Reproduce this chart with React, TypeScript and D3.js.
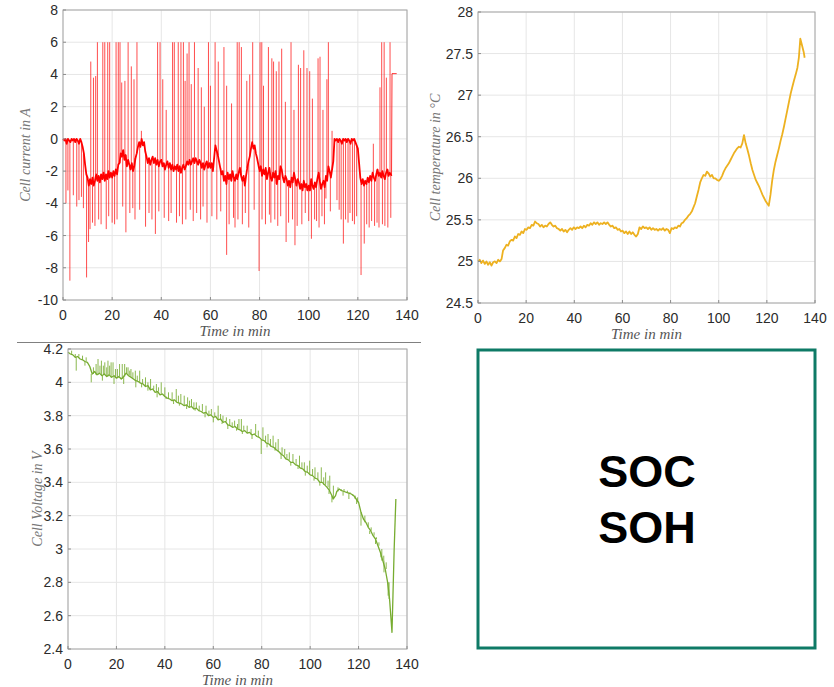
import React from 'react';
import * as d3 from 'd3';

type Pt = [number, number];

// axis ticks
const timeTicks = [0, 20, 40, 60, 80, 100, 120, 140];
const currentTicks = [-10, -8, -6, -4, -2, 0, 2, 4, 6, 8];
const tempTicks = [24.5, 25, 25.5, 26, 26.5, 27, 27.5, 28];
const voltTicks = [2.4, 2.6, 2.8, 3, 3.2, 3.4, 3.6, 3.8, 4, 4.2];

// cell current: the noisy baseline band, then the up / down pulses
const currentBase: Pt[] = [
  [0, 0], [0.5, -0.1], [1, 0], [1.5, -0.3], [2, 0], [2.5, -0.1], [3, -0.2], [3.5, 0], [4, -0.1], [4.5, 0],
  [5, -0.2], [5.5, 0], [6, -0.1], [6.5, -0.3], [7, 0], [7.5, -0.2], [8, -0.5], [8.5, -0.9], [9, -1.6], [9.5, -2.2],
  [10, -2.4], [10.5, -2.9], [11, -2.5], [11.5, -2.8], [12, -2.4], [12.5, -2.9], [13, -2.6], [13.5, -2.2], [14, -2.6], [14.5, -2.3],
  [15, -2.7], [15.5, -2.2], [16, -2.5], [16.5, -2.1], [17, -2.6], [17.5, -2.2], [18, -2.5], [18.5, -2.0], [19, -2.4], [19.5, -2.1],
  [20, -2.4], [20.5, -2.0], [21, -2.3], [21.5, -1.9], [22, -2.2], [22.5, -1.6], [23, -1.5], [23.5, -0.9], [24, -1.1], [24.5, -0.7],
  [25, -1.3], [25.5, -1.0], [26, -1.7], [26.5, -1.3], [27, -1.6], [27.5, -1.9], [28, -1.5], [28.5, -2.0], [29, -1.7], [29.5, -1.2],
  [30, -0.9], [30.5, -0.5], [31, -0.2], [31.5, -0.5], [32, 0], [32.5, -0.4], [33, -0.2], [33.5, -0.8], [34, -1.1], [34.5, -1.5],
  [35, -1.2], [35.5, -1.6], [36, -1.3], [36.5, -1.1], [37, -1.5], [37.5, -1.2], [38, -1.6], [38.5, -1.3], [39, -1.7], [39.5, -1.4],
  [40, -1.3], [40.5, -1.7], [41, -1.5], [41.5, -1.9], [42, -1.6], [42.5, -1.4], [43, -1.8], [43.5, -1.5], [44, -1.9], [44.5, -1.6],
  [45, -2.0], [45.5, -1.7], [46, -1.9], [46.5, -1.6], [47, -2.0], [47.5, -1.7], [48, -2.1], [48.5, -1.8], [49, -1.6], [49.5, -1.9],
  [50, -1.7], [50.5, -1.4], [51, -1.6], [51.5, -1.3], [52, -1.6], [52.5, -1.4], [53, -1.2], [53.5, -1.5], [54, -1.2], [54.5, -1.4],
  [55, -1.6], [55.5, -1.3], [56, -1.5], [56.5, -1.8], [57, -1.5], [57.5, -1.9], [58, -1.6], [58.5, -1.4], [59, -1.8], [59.5, -1.5],
  [60, -1.8], [60.5, -1.5], [61, -2.0], [61.5, -1.2], [62, -0.4], [62.5, -0.7], [63, -1.0], [63.5, -1.4], [64, -1.8], [64.5, -2.2],
  [65, -2.0], [65.5, -2.6], [66, -2.3], [66.5, -2.8], [67, -2.1], [67.5, -2.5], [68, -2.2], [68.5, -2.6], [69, -2.0], [69.5, -2.4],
  [70, -2.6], [70.5, -2.2], [71, -2.5], [71.5, -2.1], [72, -1.8], [72.5, -2.3], [73, -2.6], [73.5, -2.3], [74, -2.9], [74.5, -2.3],
  [75, -1.8], [75.5, -1.4], [76, -1.1], [76.5, -0.6], [77, -0.2], [77.5, -0.6], [78, -0.4], [78.5, -0.9], [79, -1.2], [79.5, -1.6],
  [80, -2.0], [80.5, -1.7], [81, -2.3], [81.5, -1.9], [82, -2.2], [82.5, -1.8], [83, -2.5], [83.5, -2.1], [84, -1.8], [84.5, -2.4],
  [85, -2.6], [85.5, -2.1], [86, -2.4], [86.5, -2.0], [87, -2.8], [87.5, -2.3], [88, -2.5], [88.5, -1.7], [89, -1.9], [89.5, -2.4],
  [90, -2.7], [90.5, -2.3], [91, -2.5], [91.5, -2.9], [92, -2.6], [92.5, -3.0], [93, -2.4], [93.5, -2.7], [94, -2.1], [94.5, -2.5],
  [95, -2.9], [95.5, -2.5], [96, -2.7], [96.5, -3.1], [97, -2.8], [97.5, -3.2], [98, -2.6], [98.5, -3.0], [99, -2.8], [99.5, -3.2],
  [100, -2.9], [100.5, -3.2], [101, -2.5], [101.5, -2.9], [102, -3.1], [102.5, -2.7], [103, -3.0], [103.5, -2.5], [104, -2.1], [104.5, -2.6],
  [105, -3.1], [105.5, -2.8], [106, -2.6], [106.5, -3.0], [107, -2.3], [107.5, -2.6], [108, -1.7], [108.5, -2.0], [109, -2.4], [109.5, -1.9],
  [110, -1.4], [110.5, 0], [111, -0.1], [111.5, 0], [112, -0.2], [112.5, 0], [113, -0.1], [113.5, -0.3], [114, 0], [114.5, -0.1],
  [115, 0], [115.5, -0.2], [116, 0], [116.5, -0.1], [117, -0.3], [117.5, 0], [118, -0.1], [118.5, 0], [119, -0.2], [119.5, -0.4],
  [120, -0.6], [120.5, -1.5], [121, -2.4], [121.5, -2.8], [122, -2.5], [122.5, -2.9], [123, -2.6], [123.5, -2.8], [124, -2.4], [124.5, -2.7],
  [125, -2.3], [125.5, -2.6], [126, -2.1], [126.5, -2.4], [127, -2.6], [127.5, -2.2], [128, -1.9], [128.5, -2.3], [129, -2.1], [129.5, -2.4],
  [130, -2.0], [130.5, -2.3], [131, -2.5], [131.5, -2.1], [132, -1.9], [132.5, -2.3], [133, -2.1], [133.7, -2.3],
];
// last step of the record, drawn thin
const currentTail: Pt[] = [[133.7, -2.3], [133.9, 4.05], [135.8, 4.05]];

const currentUp: Pt[] = [
  [11.3, 4.8], [12.4, 3.8], [13.3, 3.9], [14.0, 6], [16.2, 6], [17.0, 6], [18.2, 6], [19.0, 6], [21.6, 6], [22.5, 6],
  [23.2, 6], [23.9, 3.5], [25.2, 3.6], [26.5, 6], [27.8, 4.5], [28.9, 3.7], [30.1, 6], [31.9, 0.5],
  [38.5, 6], [39.5, 6], [40.6, 3.7], [42.0, 1.8], [44.6, 6], [45.3, 6], [46.9, 6], [48.0, 6], [49.0, 6], [49.7, 3.6],
  [50.5, 5.3], [51.3, 6], [52.2, 3.4], [53.5, 6], [55.0, 4.4], [56.3, 3.2], [57.5, 2.0], [59.2, 6], [60.0, 3.3], [61.9, 6],
  [63.2, 4.8], [65.5, 5.7], [66.6, 3.3], [68.6, 2.2], [70.9, 6], [71.7, 6], [72.6, 5.7], [74.8, 3.6], [76.0, 4.0], [77.2, 6],
  [80.2, 6], [80.9, 6], [81.6, 3.3], [83.6, 5.7], [85.0, 5.0], [85.7, 4.8], [86.8, 4.2], [87.9, 4.8], [89.0, 5.6], [90.5, 2.3],
  [92.8, 6], [94.0, 1.8], [95.8, 4.6], [96.7, 4.4], [98.0, 5.5], [99.3, 4.4], [100.4, 4.2], [101.5, 2.5], [103.8, 5.0], [104.6, 5.1],
  [105.8, 1.8], [107.4, 3.7], [108.0, 6], [109.5, 0.5], [126.3, -0.3], [129.0, 3.2], [129.7, 6], [130.7, 6], [131.6, 3.8], [133.1, 6],
];

const currentDown: Pt[] = [
  [1.2, -4], [2.0, -3.2], [2.8, -8.8], [4.2, -3.5], [5.6, -4.2], [6.5, -3.8], [7.5, -3.6], [8.3, -4.3], [9.6, -8.6], [10.4, -6.4],
  [11.0, -5.6], [12.0, -5.2], [13.0, -5.4], [14.5, -5.0], [15.5, -5.3], [17.6, -5.6], [18.6, -4.8], [20.0, -5.2], [21.0, -5.3], [22.0, -5.0],
  [24.3, -4.2], [25.6, -5.8], [27.2, -4.6], [28.4, -4.3], [29.3, -5.0], [31.2, -4.4], [33.6, -5.45], [35.0, -4.6], [36.2, -5.0], [37.6, -5.9],
  [39.0, -4.5], [41.2, -4.9], [43.0, -5.1], [44.0, -4.6], [46.2, -5.2], [47.4, -4.8], [48.6, -5.3], [50.0, -5.0], [51.8, -4.4], [53.0, -5.1],
  [54.4, -4.6], [56.0, -5.0], [57.0, -4.2], [58.6, -5.2], [60.6, -4.8], [62.6, -5.0], [64.2, -4.5], [66.6, -7.2], [67.6, -5.3], [69.4, -4.9],
  [70.0, -5.5], [71.2, -5.0], [73.0, -5.3], [74.2, -4.6], [75.6, -5.5], [77.8, -4.4], [79.8, -8.2], [81.0, -5.0], [82.4, -5.3], [84.0, -4.7],
  [84.6, -5.2], [86.2, -5.0], [87.4, -5.4], [88.6, -4.8], [90.8, -6.4], [91.8, -5.2], [93.4, -5.0], [94.4, -6.6], [95.3, -5.4], [97.2, -5.3],
  [98.6, -4.6], [100.0, -5.1], [101.1, -6.2], [102.4, -5.0], [103.2, -5.1], [104.2, -5.5], [105.4, -4.8], [106.4, -5.3], [107.0, -3.7], [108.8, -4.5],
  [111.5, -3.8], [112.4, -4.4], [113.2, -5.0], [114.1, -6.5], [115.0, -5.0], [116.0, -5.2], [116.8, -4.6], [117.8, -5.1], [118.6, -5.3], [119.5, -4.8],
  [121.3, -8.45], [122.6, -6.5], [123.6, -5.3], [124.6, -5.5], [125.6, -5.1], [126.8, -5.4], [127.8, -5.2], [128.6, -5.5], [130.0, -5.3], [131.0, -5.4],
  [132.2, -5.5], [133.4, -4.9],
];

// cell temperature
const tempSeries: Pt[] = [
  [0, 25.0], [0.7, 25.02], [1.4, 24.98], [2.1, 25.01], [2.8, 24.97], [3.5, 25.0], [4.2, 24.96], [4.9, 24.99], [5.6, 24.95], [6.3, 24.99],
  [7, 25.0], [7.7, 24.98], [8.4, 25.02], [9.1, 25.0], [9.8, 25.03], [10.4, 25.13], [11.1, 25.16], [11.8, 25.2], [12.5, 25.19], [13.2, 25.24],
  [13.9, 25.26], [14.6, 25.25], [15.3, 25.3], [16, 25.28], [16.7, 25.33], [17.4, 25.32], [18.1, 25.36], [18.8, 25.34], [19.5, 25.39], [20.2, 25.38],
  [20.9, 25.41], [21.6, 25.4], [22.3, 25.44], [23, 25.43], [23.7, 25.48], [24.4, 25.46], [25.1, 25.45], [25.8, 25.42], [26.5, 25.44], [27.2, 25.41],
  [27.9, 25.43], [28.6, 25.42], [29.3, 25.45], [30, 25.47], [30.7, 25.44], [31.4, 25.42], [32.1, 25.43], [32.8, 25.4], [33.5, 25.39], [34.2, 25.37],
  [34.9, 25.39], [35.6, 25.36], [36.3, 25.38], [37, 25.35], [37.7, 25.38], [38.4, 25.4], [39.1, 25.38], [39.8, 25.41], [40.5, 25.39], [41.2, 25.41],
  [41.9, 25.4], [42.6, 25.42], [43.3, 25.4], [44, 25.43], [44.7, 25.41], [45.4, 25.44], [46.1, 25.43], [46.8, 25.46], [47.5, 25.44], [48.2, 25.47],
  [48.9, 25.45], [49.6, 25.47], [50.3, 25.44], [51, 25.46], [51.7, 25.45], [52.4, 25.47], [53.1, 25.45], [53.8, 25.47], [54.5, 25.44], [55.2, 25.42],
  [55.9, 25.43], [56.6, 25.4], [57.3, 25.41], [58, 25.38], [58.7, 25.39], [59.4, 25.36], [60.1, 25.37], [60.8, 25.34], [61.5, 25.36], [62.2, 25.33],
  [62.9, 25.36], [63.6, 25.33], [64.3, 25.35], [65, 25.32], [65.7, 25.3], [66.4, 25.33], [67.1, 25.41], [67.8, 25.39], [68.5, 25.42], [69.2, 25.4],
  [69.9, 25.41], [70.6, 25.39], [71.3, 25.41], [72, 25.38], [72.7, 25.4], [73.4, 25.38], [74.1, 25.39], [74.8, 25.37], [75.5, 25.39], [76.2, 25.38],
  [76.9, 25.4], [77.6, 25.37], [78.3, 25.39], [79, 25.38], [79.7, 25.34], [80.4, 25.4], [81.1, 25.39], [81.8, 25.41], [82.5, 25.4], [83.2, 25.43],
  [83.9, 25.42], [84.6, 25.46], [85.3, 25.47], [86, 25.5], [86.7, 25.52], [87.4, 25.55], [88.1, 25.57], [88.8, 25.6], [89.5, 25.65], [90.2, 25.7],
  [90.9, 25.78], [91.6, 25.86], [92.3, 25.95], [93, 26.0], [93.7, 26.04], [94.4, 26.03], [95.1, 26.08], [95.8, 26.06], [96.5, 26.02], [97.2, 26.04],
  [97.9, 26.0], [98.6, 26.0], [99.3, 25.98], [100, 25.97], [100.7, 25.99], [101.4, 26.03], [102.1, 26.08], [102.8, 26.12], [103.5, 26.15], [104.2, 26.18],
  [104.9, 26.22], [105.6, 26.26], [106.3, 26.3], [107, 26.33], [107.7, 26.36], [108.4, 26.38], [109.1, 26.37], [109.8, 26.42], [110.5, 26.52], [111.2, 26.42],
  [111.9, 26.35], [112.6, 26.27], [113.3, 26.18], [114, 26.1], [114.7, 26.04], [115.4, 25.98], [116.1, 25.94], [116.8, 25.9], [117.5, 25.85], [118.2, 25.8],
  [118.9, 25.76], [119.6, 25.72], [120.3, 25.69], [120.8, 25.67], [121.5, 25.8], [122.2, 25.97], [122.9, 26.1], [123.6, 26.2], [124.3, 26.28], [125, 26.36],
  [125.7, 26.45], [126.4, 26.53], [127.1, 26.62], [127.8, 26.72], [128.5, 26.82], [129.2, 26.92], [129.9, 27.02], [130.6, 27.1], [131.3, 27.18], [132, 27.25],
  [132.7, 27.33], [133.3, 27.45], [133.9, 27.68], [134.6, 27.6], [135.3, 27.52], [135.7, 27.45],
];

// cell voltage: trend plus short pulses
const voltBase: Pt[] = [
  [0, 4.18], [1, 4.17], [2, 4.165], [3, 4.15], [4, 4.155], [5, 4.14], [6, 4.135], [7, 4.125], [8, 4.12], [9, 4.095],
  [10, 4.05], [11, 4.065], [12, 4.045], [13, 4.055], [14, 4.04], [15, 4.05], [16, 4.035], [17, 4.045], [18, 4.03], [19, 4.04],
  [20, 4.025], [21, 4.035], [22, 4.02], [23, 4.035], [24, 4.055], [25, 4.04], [26, 4.03], [27, 4.02], [28, 4.01], [29, 4.005],
  [30, 3.995], [31, 3.99], [32, 3.975], [33, 3.98], [34, 3.955], [35, 3.96], [36, 3.94], [37, 3.945], [38, 3.925], [39, 3.93],
  [40, 3.915], [41, 3.905], [42, 3.9], [43, 3.89], [44, 3.895], [45, 3.88], [46, 3.875], [47, 3.87], [48, 3.86], [49, 3.865],
  [50, 3.85], [51, 3.855], [52, 3.84], [53, 3.845], [54, 3.83], [55, 3.825], [56, 3.815], [57, 3.82], [58, 3.8], [59, 3.805],
  [60, 3.79], [61, 3.795], [62, 3.775], [63, 3.78], [64, 3.76], [65, 3.765], [66, 3.745], [67, 3.74], [68, 3.73], [69, 3.735],
  [70, 3.72], [71, 3.715], [72, 3.705], [73, 3.71], [74, 3.695], [75, 3.7], [76, 3.685], [77, 3.69], [78, 3.675], [79, 3.67],
  [80, 3.655], [81, 3.65], [82, 3.635], [83, 3.63], [84, 3.615], [85, 3.61], [86, 3.595], [87, 3.585], [88, 3.57], [89, 3.56],
  [90, 3.54], [91, 3.535], [92, 3.52], [93, 3.52], [94, 3.505], [95, 3.5], [96, 3.485], [97, 3.48], [98, 3.465], [99, 3.46],
  [100, 3.445], [101, 3.44], [102, 3.425], [103, 3.42], [104, 3.4], [105, 3.4], [106, 3.385], [107, 3.37], [108, 3.35], [109, 3.32],
  [109.5, 3.3], [110.5, 3.32], [111, 3.345], [112, 3.36], [113, 3.35], [114, 3.345], [115, 3.34], [116, 3.335], [117, 3.33], [118, 3.32],
  [119, 3.3], [120, 3.28], [121, 3.22], [122, 3.18], [123, 3.16], [124, 3.13], [125, 3.11], [126, 3.08], [127, 3.06], [128, 3.02],
  [129, 2.98], [130, 2.93], [131, 2.88], [132, 2.8], [132.8, 2.7], [133.3, 2.6], [133.8, 2.5], [134.2, 2.72], [134.7, 3.0], [135.4, 3.3],
];

const voltUp: Pt[] = [
  [1.5, 4.19], [3.0, 4.17], [4.5, 4.17], [6.0, 4.16], [7.5, 4.15], [10.5, 4.09], [11.6, 4.11], [12.4, 4.14], [13.2, 4.1], [13.8, 4.13],
  [14.6, 4.1], [15.2, 4.12], [16.0, 4.09], [16.5, 4.13], [17.2, 4.1], [17.8, 4.12], [18.6, 4.12], [19.6, 4.08], [20.4, 4.08], [21.3, 4.11],
  [22.4, 4.11], [23.4, 4.11], [24.2, 4.09], [24.8, 4.09], [25.5, 4.07], [26.0, 4.08], [26.8, 4.06], [27.8, 4.07], [28.6, 4.04], [29.6, 4.07],
  [30.8, 4.02], [32.0, 4.03], [33.0, 4.0], [34.1, 4.02], [35.4, 3.98], [36.5, 3.99], [37.4, 3.97], [38.5, 4.0], [40.0, 3.97], [41.5, 3.94],
  [43.0, 3.94], [44.7, 3.96], [45.6, 3.92], [46.6, 3.93], [48.0, 3.92], [49.4, 3.91], [50.2, 3.89], [51.0, 3.9], [52.0, 3.88], [53.0, 3.88],
  [54.2, 3.86], [55.5, 3.87], [57.0, 3.86], [58.2, 3.83], [59.2, 3.84], [60.6, 3.82], [62.0, 3.86], [63.0, 3.81], [64.0, 3.8], [65.4, 3.79],
  [66.8, 3.78], [67.8, 3.76], [68.8, 3.77], [70.0, 3.75], [70.6, 3.78], [71.6, 3.78], [72.6, 3.74], [74.0, 3.74], [75.6, 3.72], [77.5, 3.75],
  [78.6, 3.71], [80.5, 3.73], [81.6, 3.68], [82.6, 3.69], [83.6, 3.66], [84.7, 3.68], [85.8, 3.64], [86.8, 3.66], [88.4, 3.61], [89.5, 3.6],
  [90.4, 3.57], [91.4, 3.58], [92.9, 3.57], [94.2, 3.54], [95.6, 3.56], [96.6, 3.52], [97.6, 3.52], [98.8, 3.5], [99.8, 3.53], [101.0, 3.48],
  [102.0, 3.49], [103.2, 3.46], [104.6, 3.49], [105.6, 3.43], [106.4, 3.46], [107.4, 3.41], [108.1, 3.44], [109.6, 3.38], [111.5, 3.37], [112.8, 3.36],
  [114.0, 3.36], [115.4, 3.35], [116.5, 3.34], [117.6, 3.33], [118.6, 3.32], [119.6, 3.31], [122.6, 3.2], [124.0, 3.16], [125.2, 3.13], [126.4, 3.1],
  [127.4, 3.07], [128.4, 3.04], [129.6, 3.0], [130.4, 2.96], [131.4, 2.92], [132.6, 2.8],
];

const voltDown: Pt[] = [
  [3.4, 4.07], [7.0, 4.1], [9.6, 4.0], [14.2, 4.01], [19.0, 3.99], [23.0, 3.99], [28.0, 3.97], [30.4, 3.97], [33.0, 3.95], [36.8, 3.91],
  [40.5, 3.9], [43.6, 3.87], [46.0, 3.86], [49.0, 3.84], [52.5, 3.83], [56.6, 3.79], [60.0, 3.76], [63.6, 3.75], [66.0, 3.72], [69.6, 3.71],
  [72.0, 3.69], [76.0, 3.66], [79.8, 3.57], [82.2, 3.61], [85.5, 3.59], [88.0, 3.54], [92.0, 3.5], [95.0, 3.48], [98.0, 3.44], [101.6, 3.41],
  [104.0, 3.38], [107.8, 3.33], [109.0, 3.28], [113.6, 3.32], [116.0, 3.3], [119.2, 3.27], [121.0, 3.14], [124.6, 3.09], [127.0, 3.03], [129.2, 2.95],
  [130.5, 2.86], [132.2, 2.72],
];

const tickFont = '"Liberation Sans", Arial, sans-serif';
const titleFont = '"Liberation Serif", "Times New Roman", serif';

type Box = { left: number; right: number; top: number; bottom: number };
type Lin = d3.ScaleLinear<number, number>;

// pulse lines start at the closest baseline sample
const baseAt = (base: Pt[], t: number) => d3.least(base, d => Math.abs(d[0] - t))![1];

function Panel({ box, yDomain, yTicks, yTitle, yTitleX, children }: {
  box: Box; yDomain: [number, number]; yTicks: number[]; yTitle: string; yTitleX: number;
  children: (x: Lin, y: Lin) => React.ReactNode;
}) {
  const x = d3.scaleLinear().domain([0, 140]).range([box.left, box.right]);
  const y = d3.scaleLinear().domain(yDomain).range([box.bottom, box.top]);
  const fmt = (v: number) => String(+v.toFixed(2));
  const midY = (box.top + box.bottom) / 2;
  return (
    <g>
      <rect x={box.left} y={box.top} width={box.right - box.left} height={box.bottom - box.top} fill="#fff" />
      {timeTicks.map(t => (
        <line key={'gx' + t} x1={x(t)} x2={x(t)} y1={box.top} y2={box.bottom} stroke="#e6e6e6" />
      ))}
      {yTicks.map(v => (
        <line key={'gy' + v} x1={box.left} x2={box.right} y1={y(v)} y2={y(v)} stroke="#e6e6e6" />
      ))}
      {children(x, y)}
      <rect x={box.left} y={box.top} width={box.right - box.left} height={box.bottom - box.top}
        fill="none" stroke="#a6a6a6" strokeWidth={1} />
      {timeTicks.map(t => (
        <g key={'tx' + t}>
          <line x1={x(t)} x2={x(t)} y1={box.bottom} y2={box.bottom - 3} stroke="#8c8c8c" />
          <text x={x(t)} y={box.bottom + 20} textAnchor="middle" fontFamily={tickFont} fontSize={14} fill="#2b2b2b">{t}</text>
        </g>
      ))}
      {yTicks.map(v => (
        <g key={'ty' + v}>
          <line x1={box.left} x2={box.left + 3} y1={y(v)} y2={y(v)} stroke="#8c8c8c" />
          <text x={box.left - 5} y={y(v)} dy="0.36em" textAnchor="end" fontFamily={tickFont} fontSize={14} fill="#2b2b2b">{fmt(v)}</text>
        </g>
      ))}
      <text x={(box.left + box.right) / 2} y={box.bottom + 36} textAnchor="middle" fontFamily={titleFont}
        fontStyle="italic" fontSize={15} fill="#555">Time in min</text>
      <text transform={`translate(${yTitleX},${midY}) rotate(-90)`} textAnchor="middle" dy="0.35em"
        fontFamily={titleFont} fontStyle="italic" fontSize={14} fill="#777">{yTitle}</text>
    </g>
  );
}

export default function App() {
  const line = (x: Lin, y: Lin) => d3.line<Pt>().x(d => x(d[0])).y(d => y(d[1]));

  const pulses = (pts: Pt[], base: Pt[], x: Lin, y: Lin, color: string, key: string, op: number) =>
    pts.map((d, i) => (
      <line key={key + i} x1={x(d[0])} x2={x(d[0])} y1={y(baseAt(base, d[0]))} y2={y(d[1])}
        stroke={color} strokeWidth={1} strokeOpacity={op} />
    ));

  return (
    <svg width={834} height={687} style={{ position: 'absolute', left: 0, top: 0, background: '#fff' }}>
      <Panel box={{ left: 63, right: 407, top: 10, bottom: 300 }} yDomain={[-10, 8]} yTicks={currentTicks}
        yTitle="Cell current in A" yTitleX={25}>
        {(x, y) => (
          <g>
            {pulses(currentUp, currentBase, x, y, '#ff0000', 'cu', 0.7)}
            {pulses(currentDown, currentBase, x, y, '#ff0000', 'cd', 0.7)}
            <path d={line(x, y)(currentTail)!} fill="none" stroke="#ff0000" strokeWidth={1} strokeOpacity={0.8} />
            <path d={line(x, y)(currentBase)!} fill="none" stroke="#ff0000" strokeWidth={1.8} strokeLinejoin="round" />
          </g>
        )}
      </Panel>

      <Panel box={{ left: 478, right: 815, top: 12, bottom: 303 }} yDomain={[24.5, 28]} yTicks={tempTicks}
        yTitle="Cell temperature in °C" yTitleX={435}>
        {(x, y) => (
          <path d={line(x, y)(tempSeries)!} fill="none" stroke="#EDB120" strokeWidth={1.8} strokeLinejoin="round" />
        )}
      </Panel>

      <Panel box={{ left: 68, right: 407, top: 349, bottom: 649 }} yDomain={[2.4, 4.2]} yTicks={voltTicks}
        yTitle="Cell Voltage in V" yTitleX={37}>
        {(x, y) => (
          <g>
            {pulses(voltUp, voltBase, x, y, '#77AC30', 'vu', 0.85)}
            {pulses(voltDown, voltBase, x, y, '#77AC30', 'vd', 0.85)}
            <path d={line(x, y)(voltBase)!} fill="none" stroke="#77AC30" strokeWidth={1.3} strokeLinejoin="round" />
          </g>
        )}
      </Panel>

      <line x1={17} x2={421} y1={342.5} y2={342.5} stroke="#808080" strokeWidth={1} />

      <rect x={478} y={350} width={337} height={298} fill="none" stroke="#0e7a66" strokeWidth={3} />
      <text x={647} y={487} textAnchor="middle" fontFamily={tickFont} fontWeight="bold" fontSize={45} fill="#000">SOC</text>
      <text x={647} y={543} textAnchor="middle" fontFamily={tickFont} fontWeight="bold" fontSize={45} fill="#000">SOH</text>
    </svg>
  );
}
